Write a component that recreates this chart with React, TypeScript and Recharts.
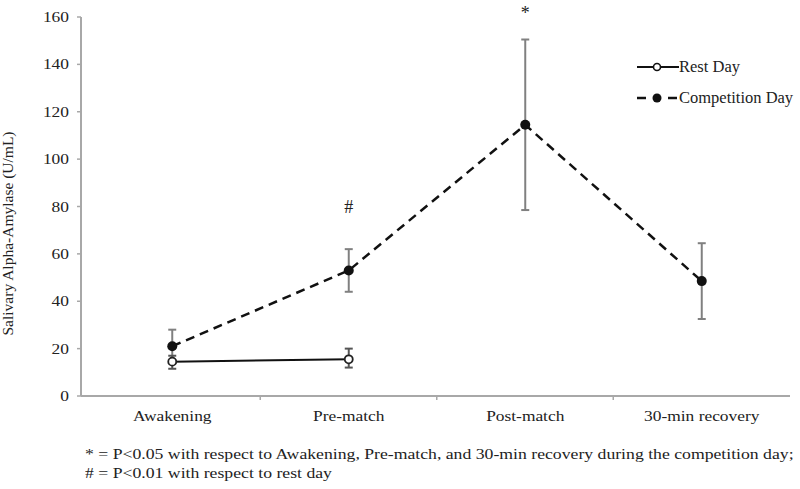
import React from 'react';
import {
  LineChart,
  Line,
  XAxis,
  YAxis,
  ErrorBar,
  ReferenceDot,
} from 'recharts';

const categories = ['Awakening', 'Pre-match', 'Post-match', '30-min recovery'];
const restMean = [14.5, 15.5, null, null];
const restErr = [[3, 2.5], [3.5, 4.5], null, null];
const compMean = [21, 53, 114.5, 48.5];
const compErr = [[6, 7], [9, 9], [36, 36], [16, 16]];
const yTicks = [0, 20, 40, 60, 80, 100, 120, 140, 160];

const annotCats = ['Pre-match', 'Post-match'];
const annotY = [80, 162];
const annotText = ['#', '*'];

const footnotes = [
  '* = P<0.05 with respect to Awakening, Pre-match, and 30-min recovery during the competition day;',
  '# = P<0.01 with respect to rest day',
];

const data = categories.map((name, i) => ({
  name,
  rest: restMean[i],
  restErr: restErr[i],
  comp: compMean[i],
  compErr: compErr[i],
}));

const FONT = '"Liberation Serif", "Times New Roman", serif';
const AXIS = '#a8a8a8';
const TEXT = '#222';
// the original figure is stretched sideways a bit
const STRETCH = 1.2;

const XTick = ({ x, y, payload, index }: any) => (
  <g>
    <text
      transform={`translate(${x},${y + 25}) scale(${STRETCH},1)`}
      textAnchor="middle"
      fontSize={14.5}
      fill={TEXT}
      fontFamily={FONT}
    >
      {payload.value}
    </text>
    {index < categories.length - 1 && (
      <line x1={x + 88} x2={x + 88} y1={y} y2={y + 4} stroke={AXIS} strokeWidth={1.5} />
    )}
  </g>
);

const YTick = ({ x, y, payload }: any) => (
  <text
    transform={`translate(${x},${y + 5}) scale(${STRETCH},1)`}
    textAnchor="end"
    fontSize={14.5}
    fill={TEXT}
    fontFamily={FONT}
  >
    {payload.value}
  </text>
);

const OpenDot = ({ cx, cy }: any) =>
  cx == null || cy == null ? null : (
    <circle cx={cx} cy={cy} r={4} fill="#fff" stroke="#222" strokeWidth={1.8} />
  );

const FilledDot = ({ cx, cy }: any) =>
  cx == null || cy == null ? null : <circle cx={cx} cy={cy} r={5} fill="#111" />;

const App = () => (
  <div style={{ position: 'absolute', left: 0, top: 0, width: 800, height: 489, background: '#fff', fontFamily: FONT }}>
    <LineChart
      width={800}
      height={489}
      data={data}
      margin={{ top: 17, right: 10, left: 0, bottom: 63 }}
    >
      <XAxis
        dataKey="name"
        scale="band"
        padding={{ left: 3, right: 0 }}
        axisLine={{ stroke: AXIS, strokeWidth: 2 }}
        tickLine={false}
        tickSize={0}
        tickMargin={0}
        height={30}
        tick={<XTick />}
        interval={0}
      />
      <YAxis
        domain={[0, 160]}
        ticks={yTicks}
        width={81}
        axisLine={{ stroke: AXIS, strokeWidth: 2 }}
        tickLine={{ stroke: AXIS, strokeWidth: 1.5 }}
        tickSize={4}
        tickMargin={8}
        tick={<YTick />}
        label={{
          value: 'Salivary Alpha-Amylase (U/mL)',
          angle: -90,
          position: 'insideLeft',
          dx: 2,
          dy: 27,
          style: { textAnchor: 'middle', fontSize: 15.5, fill: TEXT, fontFamily: FONT },
        }}
      />
      <Line
        dataKey="comp"
        stroke="#111"
        strokeWidth={2.5}
        strokeDasharray="9 6"
        dot={<FilledDot />}
        activeDot={false}
        isAnimationActive={false}
      >
        <ErrorBar dataKey="compErr" width={4} stroke="#808080" strokeWidth={2} direction="y" />
      </Line>
      <Line
        dataKey="rest"
        stroke="#111"
        strokeWidth={2}
        dot={<OpenDot />}
        activeDot={false}
        isAnimationActive={false}
      >
        <ErrorBar dataKey="restErr" width={4} stroke="#555" strokeWidth={2} direction="y" />
      </Line>
      {annotCats.map((c, i) => (
        <ReferenceDot
          key={c}
          x={c}
          y={annotY[i]}
          r={0}
          ifOverflow="visible"
          label={{
            value: annotText[i],
            position: 'center',
            style: { fontSize: 18, fill: TEXT, fontFamily: FONT },
          }}
        />
      ))}
    </LineChart>

    <div style={{ position: 'absolute', left: 637, top: 56, fontSize: 16.5, color: TEXT, lineHeight: '22px' }}>
      <div style={{ display: 'flex', alignItems: 'center' }}>
        <svg width={42} height={22}>
          <line x1={0} x2={42} y1={11} y2={11} stroke="#111" strokeWidth={2} />
          <circle cx={20} cy={11} r={3.5} fill="#fff" stroke="#111" strokeWidth={1.6} />
        </svg>
        <span>Rest Day</span>
      </div>
      <div style={{ display: 'flex', alignItems: 'center', marginTop: 9 }}>
        <svg width={42} height={22}>
          <line x1={0} x2={9} y1={11} y2={11} stroke="#111" strokeWidth={2.5} />
          <line x1={31} x2={40} y1={11} y2={11} stroke="#111" strokeWidth={2.5} />
          <circle cx={20} cy={11} r={4.5} fill="#111" />
        </svg>
        <span>Competition Day</span>
      </div>
    </div>

    <div
      style={{
        position: 'absolute',
        left: 85,
        top: 445,
        fontSize: 14.5,
        color: TEXT,
        lineHeight: '19px',
        whiteSpace: 'nowrap',
        transform: 'scaleX(1.22)',
        transformOrigin: 'left top',
      }}
    >
      {footnotes.map((f) => (
        <div key={f}>{f}</div>
      ))}
    </div>
  </div>
);

export default App;
